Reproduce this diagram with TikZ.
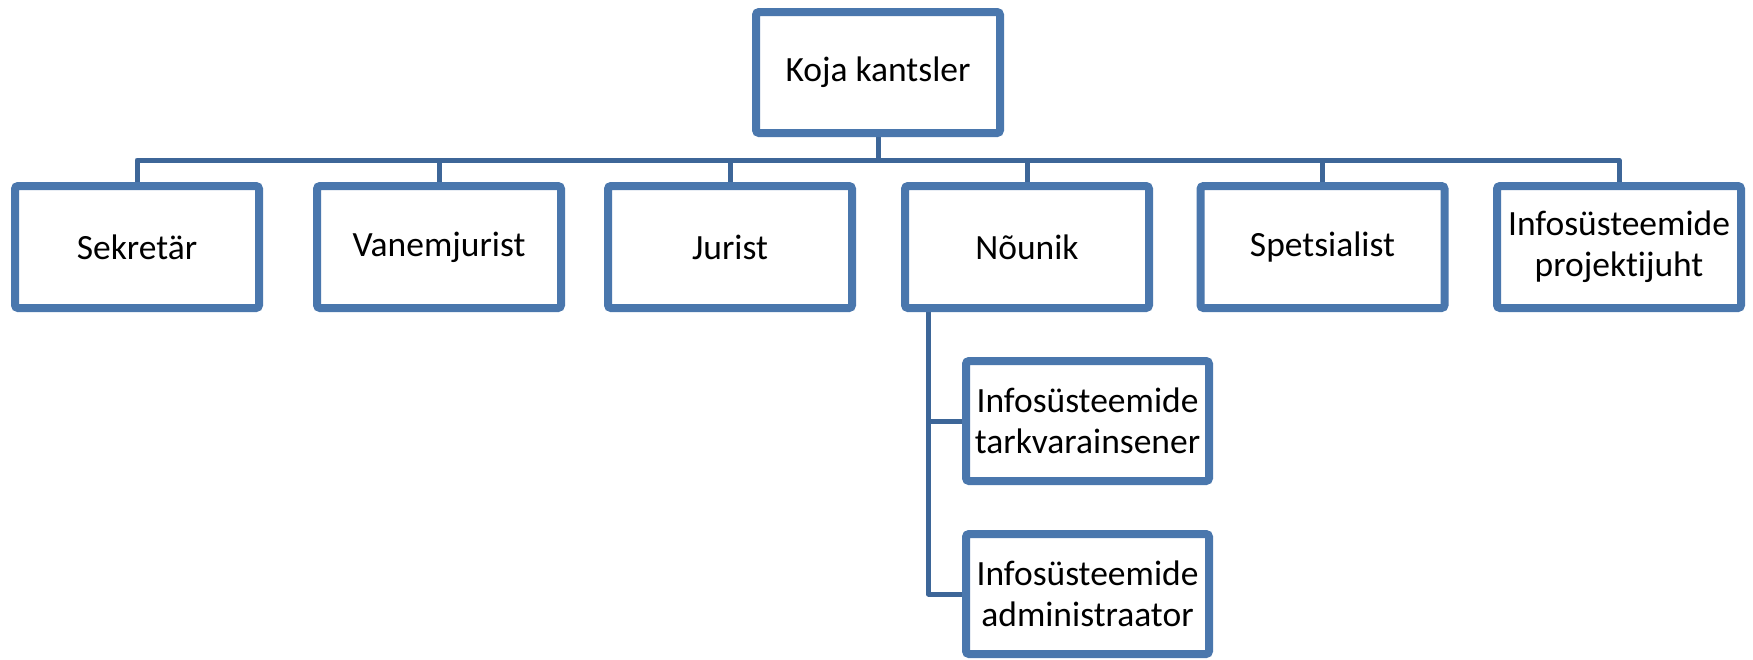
\documentclass[tikz,border=0pt]{standalone}
\usepackage{fontspec}
\setmainfont{Carlito}[Ligatures=NoCommon]
\usetikzlibrary{backgrounds}
\definecolor{boxblue}{HTML}{4A77AD}
\definecolor{linkblue}{HTML}{3D6698}
\tikzset{
  orgbox/.style={draw=boxblue, line width=8pt, fill=white, rounded corners=3pt,
    minimum width=244pt, minimum height=122pt, inner sep=0pt, align=center,
    font=\fontsize{35.5}{41}\selectfont, text=black},
  subbox/.style={orgbox, minimum width=243pt, minimum height=120pt},
  link/.style={draw=linkblue, line width=5pt, line join=round}
}
\begin{document}
\begin{tikzpicture}[x=1pt,y=-1pt]
\useasboundingbox (0,0) rectangle (1753,659);
\node[orgbox, minimum height=121pt] (top) at (878,72.5) {Koja kantsler};
\node[orgbox] (sek) at (137,247) {Sekretär};
\node[orgbox] (van) at (439,247) {Vanemjurist};
\node[orgbox] (jur) at (730,247) {Jurist};
\node[orgbox] (nou) at (1027,247) {Nõunik};
\node[orgbox] (spe) at (1322.5,247) {Spetsialist};
\node[orgbox] (pro) at (1619,247) {Infosüsteemide\\projektijuht};
\node[subbox] (ins) at (1087.5,421) {Infosüsteemide\\tarkvarainsener};
\node[subbox] (adm) at (1087.5,594) {Infosüsteemide\\administraator};
\coordinate (bus) at (0,160);
\coordinate (nv) at (928.5,0);
\begin{scope}[on background layer]
\foreach \c in {sek,van,jur,nou,spe,pro}{
  \draw[link] (top.south) -- (top.south |- bus) -| (\c.north);
}
\draw[link] (nv |- nou.south) |- (ins.west);
\draw[link] (nv |- nou.south) |- (adm.west);
\end{scope}
\end{tikzpicture}
\end{document}
